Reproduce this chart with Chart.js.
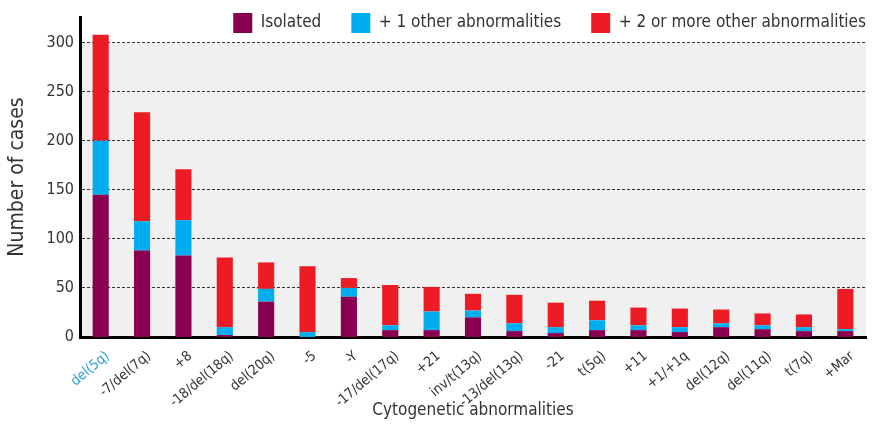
<!DOCTYPE html>
<html><head><meta charset="utf-8">
<script src="https://cdn.jsdelivr.net/npm/chart.js@4"></script>
<style>html,body{margin:0;padding:0;background:#fff}#wrap{width:877px;height:425px;position:relative}</style>
</head><body><div id="wrap"><canvas id="c"></canvas></div>
<script>
const categories = ['del(5q)','-7/del(7q)','+8','-18/del(18q)','del(20q)','-5','-Y','-17/del(17q)','+21','inv/t(13q)','-13/del(13q)','-21','t(5q)','+11','+1/+1q','del(12q)','del(11q)','t(7q)','+Mar'];
const isolated      = [145, 88, 83,  2, 36,  0, 41,  7,  7, 20,  6,  4,  7,  7,  5, 10,  8,  6,  6];
const plusOne       = [ 55, 30, 36,  8, 13,  5,  9,  5, 19,  7,  8,  6, 10,  5,  5,  4,  4,  4,  2];
const plusTwoOrMore = [108,111, 52, 71, 27, 67, 10, 41, 25, 17, 29, 25, 20, 18, 19, 14, 12, 13, 41];
const seriesNames = ['Isolated', '+ 1 other abnormalities', '+ 2 or more other abnormalities'];
const yMax = 326, yStep = 50, yShadeTop = 300;

const FONT = "'Liberation Sans Narrow','DejaVu Sans Condensed','Liberation Sans',sans-serif";
const TXT = '#333333';
const LEG_PAD = 30;

const bgPlugin = {
  id: 'bg',
  beforeDraw(chart) {
    const {ctx, chartArea} = chart;
    const y = chart.scales.y;
    const top = y.getPixelForValue(yShadeTop), bot = y.getPixelForValue(0);
    ctx.save();
    ctx.fillStyle = '#f0f0f0';
    ctx.fillRect(chartArea.left, top, chartArea.right - chartArea.left, bot - top);
    ctx.restore();
  },
  afterLayout(chart) {
    const lg = chart.legend;
    if (!lg) return;
    lg.top = 13 - LEG_PAD;
    lg.bottom = 60;
    lg.left = 0;
    lg.right = chart.chartArea.right + LEG_PAD;
    lg.width = lg.right - lg.left;
    lg.height = lg.bottom - lg.top;
  }
};

new Chart(document.getElementById('c'), {
  type: 'bar',
  data: {
    labels: categories,
    datasets: [
      {label: seriesNames[0], data: isolated, backgroundColor: '#8a0050'},
      {label: seriesNames[1], data: plusOne, backgroundColor: '#00aeef'},
      {label: seriesNames[2], data: plusTwoOrMore, backgroundColor: '#ed1c24'}
    ]
  },
  plugins: [bgPlugin],
  options: {
    responsive: true,
    maintainAspectRatio: false,
    animation: false,
    layout: {padding: {left: 0, right: 11, top: 16, bottom: 0}},
    datasets: {bar: {barPercentage: 0.39, categoryPercentage: 1, borderWidth: 0}},
    plugins: {
      tooltip: {enabled: false},
      legend: {
        position: 'top',
        align: 'end',
        maxHeight: 1,
        labels: {boxWidth: 19, boxHeight: 20, padding: LEG_PAD, color: TXT, font: {family: FONT, size: 17}}
      }
    },
    scales: {
      x: {
        stacked: true,
        grid: {display: false},
        border: {display: true, color: '#000', width: 3},
        ticks: {
          color: (c) => c.index === 0 ? '#2a9fd8' : TXT,
          font: {family: FONT, size: 14},
          minRotation: 40, maxRotation: 40, padding: 3, labelOffset: 7, autoSkip: false
        },
        title: {display: true, text: 'Cytogenetic abnormalities', color: TXT, font: {family: FONT, size: 17}, padding: {top: 0, bottom: 4}},
        afterFit: (s) => { s.height = 88; }
      },
      y: {
        stacked: true,
        min: 0, max: yMax,
        ticks: {stepSize: yStep, includeBounds: false, color: TXT, font: {family: FONT, size: 16}, padding: 6},
        grid: {color: '#333', drawTicks: false, lineWidth: (c) => (c.tick && c.tick.value === 0) ? 0 : 1},
        border: {display: true, color: '#000', width: 3, dash: [3, 2]},
        title: {display: true, text: 'Number of cases', color: TXT, font: {family: FONT, size: 21}, padding: {top: 5, bottom: 0}},
        afterFit: (s) => { s.width = 80; }
      }
    }
  }
});
</script></body></html>
